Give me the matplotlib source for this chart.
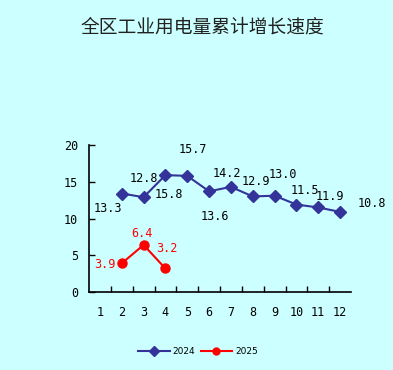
import matplotlib
matplotlib.use("Agg")
import matplotlib.pyplot as plt

months = list(range(1, 13))
months_2024 = [2, 3, 4, 5, 6, 7, 8, 9, 10, 11, 12]
values_2024 = [13.4, 12.9, 15.9, 15.8, 13.7, 14.3, 13.0, 13.1, 11.9, 11.5, 10.9]
labels_2024 = ["13.3", "12.8", "15.8", "15.7", "13.6", "14.2", "12.9", "13.0", "11.5", "11.9", "10.8"]
months_2025 = [2, 3, 4]
values_2025 = [3.9, 6.4, 3.2]
labels_2025 = ["3.9", "6.4", "3.2"]
y_ticks = [0, 5, 10, 15, 20]

# label offsets in pixels (dx, dy)
off_2024 = [(-14, -15), (0, 19), (3, -19), (6, 26), (6, -25), (-4, 13), (3, 15), (8, 21), (8, 14), (12, 11), (32, 8)]
off_2025 = [(-17, -1), (-2, 11), (1, 20)]

bg = "#CCFFFF"
fig = plt.figure(figsize=(3.93, 3.70), dpi=100, facecolor=bg)
ax = fig.add_axes([89/393, 78/370, 262/393, 147/370], facecolor=bg)

ax.plot(months_2024, values_2024, color="#333399", marker="D", markersize=6, linewidth=1.5, label="2024")
ax.plot(months_2025, values_2025, color="#FF0000", marker="o", markersize=6.5, linewidth=1.5, label="2025")

mono = "DejaVu Sans Mono"
for x, y, t, (dx, dy) in zip(months_2024, values_2024, labels_2024, off_2024):
    ax.annotate(t, (x, y), xytext=(dx, dy), textcoords="offset pixels", ha="center", va="center",
                fontsize=8.5, family=mono, color="black")
for x, y, t, (dx, dy) in zip(months_2025, values_2025, labels_2025, off_2025):
    ax.annotate(t, (x, y), xytext=(dx, dy), textcoords="offset pixels", ha="center", va="center",
                fontsize=8.5, family=mono, color="#FF0000")

ax.set_xlim(0.5, 12.5)
ax.set_ylim(0, 20)
ax.set_xticks(months)
ax.set_xticklabels([str(m) for m in months], family=mono, fontsize=8.5)
ax.set_xticks([m + 0.5 for m in months[:-1]], minor=True)
ax.tick_params(axis="x", which="major", length=0, pad=10)
ax.tick_params(axis="x", which="minor", direction="in", length=4, width=1)
ax.set_yticks(y_ticks)
ax.set_yticklabels([str(v) for v in y_ticks], family=mono, fontsize=8.5)
ax.tick_params(axis="y", direction="in", length=4, width=1, pad=8)
for s in ["top", "right"]:
    ax.spines[s].set_visible(False)
for s in ["left", "bottom"]:
    ax.spines[s].set_linewidth(1.2)

leg = fig.legend(loc="center", bbox_to_anchor=(198/393, 1 - 352/370), ncol=2, frameon=False,
                 handlelength=3.5, columnspacing=0.6, handletextpad=0.3,
                 prop={"family": "DejaVu Sans", "size": 6.5})
for h in leg.legend_handles:
    h.set_markersize(5)

fig.text(202/393, 1 - 27/370, "全区工业用电量累计增长速度", ha="center", va="center",
         fontsize=13.5, family=["Noto Sans CJK SC", "DejaVu Sans"], color="#222222")

fig.savefig("out.png", dpi=100, facecolor=bg)
